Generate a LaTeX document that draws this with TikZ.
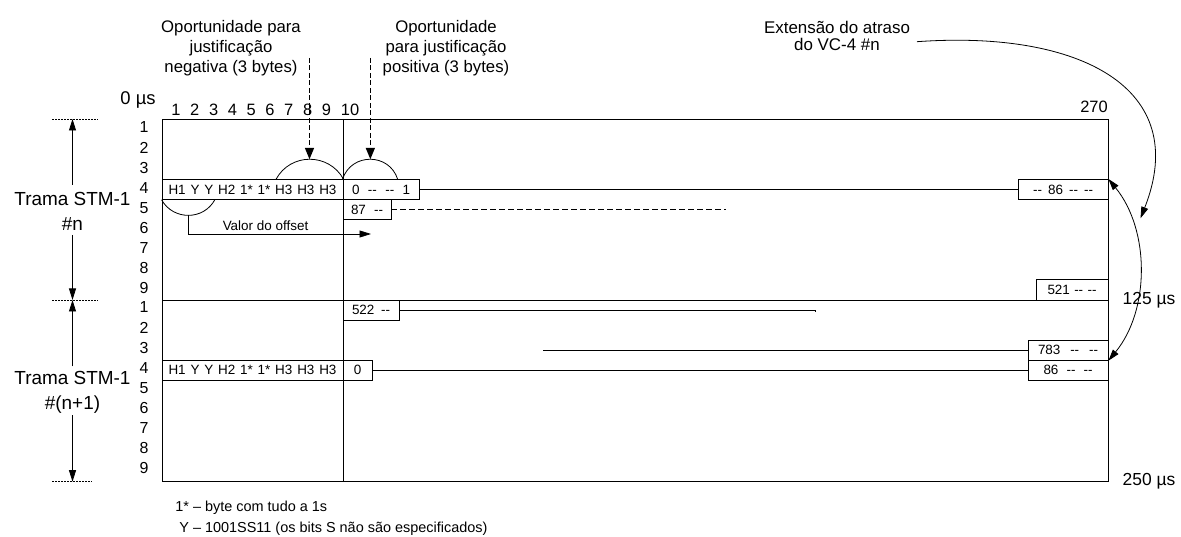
\documentclass[tikz,border=0pt]{standalone}
\usepackage{fontspec}
\setmainfont{Liberation Sans}
\usetikzlibrary{arrows.meta}
\begin{document}
\begin{tikzpicture}[x=1bp,y=-1bp,line width=0.8bp,
  tri/.style={-{Triangle[length=11.5bp,width=7bp]}},
  dtri/.style={-{Triangle[length=11.5bp,width=9bp]},dash pattern=on 5bp off 2.5bp,line width=1.6bp},
  cell/.style={draw,inner sep=0pt,minimum height=20.1bp,font=\fontsize{13.5}{15}\selectfont},
  rowlab/.style={inner sep=0pt,font=\fontsize{16}{17}\selectfont},
  collab/.style={inner sep=0pt,font=\fontsize{16.5}{18}\selectfont},
  ann/.style={inner sep=0pt,align=center,font=\fontsize{16.8}{20}\selectfont},
  trama/.style={inner sep=0pt,align=center,font=\fontsize{19}{25}\selectfont},
  usl/.style={inner sep=0pt,font=\fontsize{17.5}{19}\selectfont},
  note/.style={inner sep=0pt,anchor=west,font=\fontsize{14.5}{17}\selectfont},
  small/.style={inner sep=0pt,font=\fontsize{13.5}{15}\selectfont},
  tdash/.style={dash pattern=on 2bp off 1bp,line width=0.7bp},
  rdash/.style={dash pattern=on 6bp off 3bp,line width=1.3bp}]
\useasboundingbox (0,0) rectangle (1181,537);
% frame
\coordinate (FTL) at (162,119);
\coordinate (FBR) at (1108,481);
\coordinate (ML) at (162,300);
\coordinate (MR) at (1108,300);
\coordinate (DT) at (343,119);
\coordinate (DB) at (343,481);
\draw (FTL) rectangle (FBR);
\draw (ML) -- (MR);
\draw (DT) -- (DB);
% cells
\node[cell,minimum width=181bp] (hA) at (252.5,189.4) {\makebox[168bp][s]{H1 Y Y H2 1* 1* H3 H3 H3}};
\node[cell,minimum width=76.3bp] (zA) at (381.15,189.4) {\makebox[58bp][s]{0 -{}- -{}- 1}};
\node[cell,minimum width=89.6bp] (eA) at (1063.2,189.4) {\makebox[60bp][s]{-{}- 86 -{}- -{}-}};
\node[cell,minimum width=48bp] (b87) at (367,209.5) {\makebox[32bp][s]{87 -{}-}};
\node[cell,minimum width=72bp] (b521) at (1072,289.95) {\makebox[49bp][s]{521 -{}- -{}-}};
\node[cell,minimum width=56bp] (b522) at (371,310.05) {\makebox[38bp][s]{522 -{}-}};
\node[cell,minimum width=80bp] (b783) at (1068,350.25) {\makebox[60bp][s]{783 -{}- -{}-}};
\node[cell,minimum width=181bp] (hB) at (252.5,370.35) {\makebox[168bp][s]{H1 Y Y H2 1* 1* H3 H3 H3}};
\node[cell,minimum width=29bp] (zB) at (357.5,370.35) {0};
\node[cell,minimum width=80bp] (eB) at (1068,370.35) {\makebox[49bp][s]{86 -{}- -{}-}};
% row lines
\draw (zA.east) -- (eA.west);
\coordinate (e87) at (726,209.5);
\draw[rdash] (b87.east) -- (e87);
\coordinate (e522) at (815,310.05);
\draw (b522.east) -- (e522) -- ++(0,2.2);
\coordinate (s783) at (543,350.25);
\draw (s783) -- (b783.west);
\draw (zB.east) -- (eB.west);
% arcs
\coordinate (a1s) at (276,179.35);
\coordinate (pk1) at (309.5,159.3);
\draw (a1s) .. controls (290.4,152.6) and (328.6,152.6) .. (hA.north east);
\coordinate (a2e) at (397.7,179.35);
\coordinate (pk2) at (370.35,159.3);
\draw (zA.north west) .. controls (351.5,152.6) and (389.2,152.6) .. (a2e);
\coordinate (u1e) at (215,199.45);
\draw (hA.south west) .. controls (173.3,220.6) and (203.7,220.6) .. (u1e);
% offset arrow
\coordinate (offB) at (188.5,215.3);
\coordinate (offC) at (188.5,234);
\coordinate (offE) at (371,234);
\draw[tri] (offB) -- (offC) -- (offE);
\node[small] (vo) at (265.5,226) {Valor do offset};
% justification labels and arrows
\node[ann] (neg) at (231,48) {Oportunidade para\\justificação\\negativa (3 bytes)};
\node[ann] (pos) at (446,48) {Oportunidade\\para justificação\\positiva (3 bytes)};
\coordinate (negT) at (309.5,58);
\coordinate (posT) at (370.35,58);
\draw[dtri] (negT) -- (pk1);
\draw[dtri] (posT) -- (pk2);
% delay label and curved arrow
\node[inner sep=0pt,align=center,font=\fontsize{17}{17.8}\selectfont] (ext) at (837,36) {Extensão do atraso\\do VC-4 \#n};
\coordinate (extS) at (917,41.7);
\coordinate (extE) at (1140.5,218.3);
\draw[tri] (extS) .. controls (1080,30) and (1192,88) .. (extE);
% 125 us arc
\draw[{Triangle[length=11.5bp,width=7bp]}-{Triangle[length=11.5bp,width=7bp]}] (eA.north east) .. controls (1150,230) and (1150,310) .. (b783.south east);
% time labels
\node[inner sep=0pt,font=\fontsize{18.5}{20}\selectfont] (t0) at (138,100) {0 µs};
\node[collab] (c270) at (1094,107) {270};
\node[usl] (t125) at (1149,300) {125 µs};
\node[usl] (t250) at (1149,481) {250 µs};
% column numbers
\foreach \k in {1,...,9} {
  \node[collab] (col\k) at ({176+18.8*(\k-1)},110) {\k};
}
\node[collab] (col10) at (350,110) {10};
% row numbers
\foreach \k in {1,...,9} {
  \node[rowlab] (ra\k) at (144,{127.5+20.1*(\k-1)}) {\k};
  \node[rowlab] (rb\k) at (144,{307.5+20.1*(\k-1)}) {\k};
}
% left frame markers
\node[trama] (trA) at (72.5,211) {Trama STM-1\\\#n};
\node[trama] (trB) at (72.5,392) {Trama STM-1\\\#(n+1)};
\coordinate (dA1) at (52,119); \coordinate (dA2) at (98,119);
\coordinate (dB1) at (52,300); \coordinate (dB2) at (98,300);
\coordinate (dC1) at (52,481.7); \coordinate (dC2) at (92,481.7);
\draw[tdash] (dA1) -- (dA2);
\draw[tdash] (dB1) -- (dB2);
\draw[tdash] (dC1) -- (dC2);
\coordinate (mA) at (72.5,119);
\coordinate (mB) at (72.5,300);
\coordinate (mC) at (72.5,481.7);
\coordinate (trAt) at (72.5,185);
\coordinate (trAb) at (72.5,235);
\coordinate (trBt) at (72.5,366.5);
\coordinate (trBb) at (72.5,415);
\draw[tri] (trAt) -- (mA);
\draw[tri] (trAb) -- (mB);
\draw[tri] (trBt) -- (mB);
\draw[tri] (trBb) -- (mC);
% notes
\node[note] (n1) at (175,508) {1* – byte com tudo a 1s};
\node[note] (n2) at (179,529) {Y – 1001SS11 (os bits S não são especificados)};
\end{tikzpicture}
\end{document}
